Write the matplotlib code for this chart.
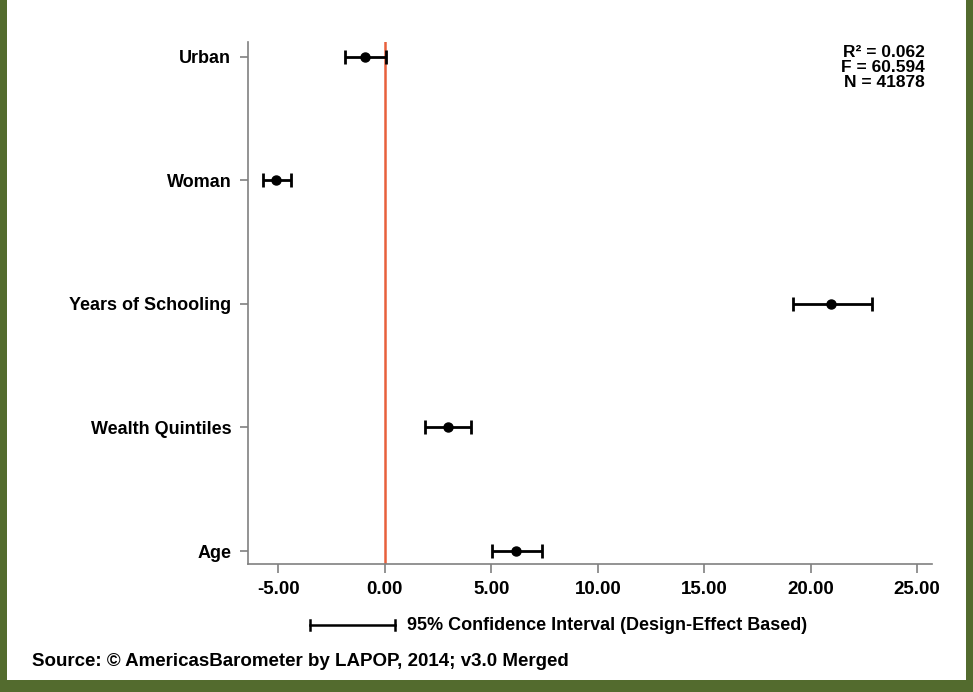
import matplotlib.pyplot as plt
import matplotlib.patches as mpatches

variables = ['Age', 'Wealth Quintiles', 'Years of Schooling', 'Woman', 'Urban']
coef = [6.16, 2.96, 20.94, -5.10, -0.94]
ci_low = [5.01, 1.88, 19.15, -5.73, -1.88]
ci_high = [7.36, 4.04, 22.86, -4.41, 0.05]
xticks = [-5, 0, 5, 10, 15, 20, 25]
stats_text = 'R² = 0.062\nF = 60.594\nN = 41878'

plt.rcParams['font.family'] = ['Liberation Sans', 'DejaVu Sans']
plt.rcParams['font.weight'] = 'bold'

W, H = 973, 692
fig = plt.figure(figsize=(W / 100, H / 100), dpi=100)
ax = fig.add_axes([248 / W, 1 - 564 / H, (932 - 248) / W, (564 - 42) / H])

ypos = list(range(len(variables)))
err = [[c - lo for c, lo in zip(coef, ci_low)], [hi - c for c, hi in zip(coef, ci_high)]]
ax.axvline(0, color='#E8603C', lw=1.8, zorder=1)
ax.errorbar(coef, ypos, xerr=err, fmt='o', color='black', ms=6.5,
            elinewidth=2, capsize=5, capthick=2, zorder=3)

ax.set_xlim(-6.43, 25.7)
ax.set_ylim(-0.105, 4.12)
ax.set_xticks(xticks)
ax.set_xticklabels(['%.2f' % v for v in xticks], fontsize=13.5, fontweight='bold')
ax.set_yticks(ypos)
ax.set_yticklabels(variables, fontsize=13, fontweight='bold')
for s in ['top', 'right']:
    ax.spines[s].set_visible(False)
for s in ['left', 'bottom']:
    ax.spines[s].set_color('#808080')
    ax.spines[s].set_linewidth(1.2)
ax.tick_params(axis='y', color='#808080', length=6, width=1.2, pad=6)
ax.tick_params(axis='x', color='#808080', length=6.5, width=1.2, pad=6)

ax.text(0.99, 0.995, stats_text, transform=ax.transAxes, ha='right', va='top',
        fontsize=12.5, fontweight='bold', linespacing=1.0)

# legend for CI
ly = 1 - 625 / H
fig.add_artist(plt.Line2D([310 / W, 395 / W], [ly, ly], color='black', lw=1.8,
                          transform=fig.transFigure))
for xx in [310, 395]:
    fig.add_artist(plt.Line2D([xx / W, xx / W], [ly - 5 / H, ly + 5 / H], color='black',
                              lw=1.8, transform=fig.transFigure))
fig.text(407 / W, ly, '95% Confidence Interval (Design-Effect Based)', ha='left', va='center',
         fontsize=13, fontweight='bold')
fig.text(32 / W, 1 - 661 / H, 'Source: © AmericasBarometer by LAPOP, 2014; v3.0 Merged',
         ha='left', va='center', fontsize=13.5, fontweight='bold')

# green frame
green = '#536B2E'
for x0, y0, w, h in [(0, 0, 7, H), (W - 7, 0, 7, H), (0, H - 12, W, 12)]:
    fig.add_artist(mpatches.Rectangle((x0 / W, 1 - (y0 + h) / H), w / W, h / H,
                                      color=green, transform=fig.transFigure, lw=0))

fig.savefig('out.png', dpi=100)
